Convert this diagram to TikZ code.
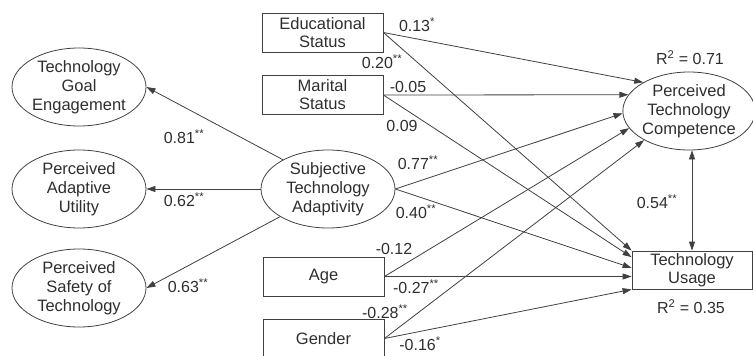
\documentclass[tikz,border=0pt]{standalone}
\usepackage{fontspec}
\setmainfont{Liberation Sans}
\usetikzlibrary{shapes.geometric,arrows.meta}

\newcommand{\sig}[1]{\textsuperscript{#1}}
\definecolor{linegray}{HTML}{404040}
\definecolor{textgray}{HTML}{2E2E2E}

\tikzset{
  latent/.style={ellipse, draw=linegray, line width=0.8pt,
    minimum width=134pt, minimum height=78pt, inner sep=0pt,
    align=center, text=textgray, font=\fontsize{16.5}{19}\selectfont},
  observed/.style={rectangle, draw=linegray, line width=0.8pt,
    minimum width=121pt, minimum height=39pt, inner sep=0pt,
    align=center, text=textgray, font=\fontsize{16.5}{18}\selectfont},
  effect/.style={draw=linegray, line width=0.8pt,
    -{Triangle[length=9pt,width=6pt]}},
  coef/.style={inner sep=0pt, text=textgray, font=\fontsize{16}{18}\selectfont},
}

\begin{document}
\begin{tikzpicture}[x=1pt,y=-1pt]
\useasboundingbox (0,0) rectangle (753,356);
\clip (0,0) rectangle (753,356);

% The latent variables
\node[latent] (tge) at (79,87) {Technology\\Goal\\Engagement};
\node[latent] (pau) at (79,189) {Perceived\\Adaptive\\Utility};
\node[latent] (pst) at (79,288) {Perceived\\Safety of\\Technology};
\node[latent] (sta) at (328,189) {Subjective\\Technology\\Adaptivity};
\node[latent, minimum width=128pt] (ptc) at (689,111) {Perceived\\Technology\\Competence};

% The observed variables
\node[observed] (edu) at (322.5,32.5) {Educational\\Status};
\node[observed] (mar) at (322.5,95) {Marital\\Status};
\node[observed] (age) at (323.5,276.5) {Age};
\node[observed] (gen) at (323.5,338.5) {Gender};
\node[observed, minimum width=120pt, minimum height=38pt] (use) at (692,270) {Technology\\Usage};

% Loadings of the adaptivity factor
\draw[effect] (sta.147) -- (tge.east);
\draw[effect] (sta.west) -- (pau.east);
\draw[effect] (sta.210) -- (pst.east);

% Paths into competence
\foreach \src/\ang in {edu.east/148, mar.east/165, sta.east/182, age.east/196, gen.east/213}{
  \draw[effect] (\src) -- (ptc.\ang);
}

% Paths into usage
\draw[effect] (edu.east) -- (use.north west);
\draw[effect] (mar.east) -- (use.168);
\draw[effect] (sta.east) -- (use.178);
\draw[effect] (age.east) -- (age.east -| use.west);
\draw[effect] (gen.east) -- (use.south west);

% Correlation of the outcomes
\draw[effect, {Triangle[length=9pt,width=6pt]}-{Triangle[length=9pt,width=6pt]}]
  (ptc.south -| use.north) -- (use.north);

% The coefficients
\node[coef] (c-tge) at (184,137) {0.81\sig{**}};
\node[coef] (c-pau) at (184,200) {0.62\sig{**}};
\node[coef] (c-pst) at (188,286) {0.63\sig{**}};
\node[coef] (c-edu1) at (417,25) {0.13\sig{*}};
\node[coef] (c-edu2) at (382,62) {0.20\sig{**}};
\node[coef] (c-mar1) at (408,87) {-0.05};
\node[coef] (c-mar2) at (402,126) {0.09};
\node[coef] (c-sta1) at (418,163) {0.77\sig{**}};
\node[coef] (c-sta2) at (416,212) {0.40\sig{**}};
\node[coef] (c-age1) at (394,249) {-0.12};
\node[coef] (c-age2) at (416,287) {-0.27\sig{**}};
\node[coef] (c-gen1) at (385,312) {-0.28\sig{**}};
\node[coef] (c-gen2) at (420,344) {-0.16\sig{*}};
\node[coef] (c-cor) at (657,202) {0.54\sig{**}};

% Explained variance
\node[coef] (r-ptc) at (690,58) {R\sig{2} = 0.71};
\node[coef] (r-use) at (691,307) {R\sig{2} = 0.35};

\end{tikzpicture}
\end{document}
